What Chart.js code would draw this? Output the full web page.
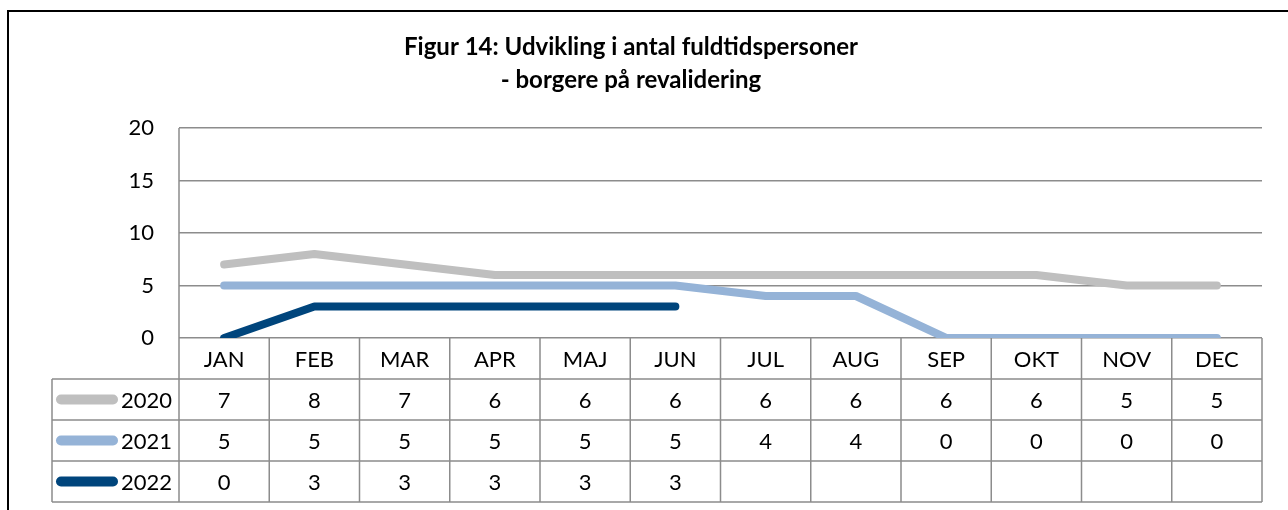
<!DOCTYPE html>
<html>
<head>
  <title>Figur 14</title>
  <script src="https://cdn.jsdelivr.net/npm/chart.js"></script>
  <style>
    body { margin: 0; background: #fff; }
  </style>
</head>
<body>
  <canvas id="chartCanvas" width="1288" height="510"></canvas>

<script>
  const months = ["JAN", "FEB", "MAR", "APR", "MAJ", "JUN", "JUL", "AUG", "SEP", "OKT", "NOV", "DEC"];
  const values2020 = [7, 8, 7, 6, 6, 6, 6, 6, 6, 6, 5, 5];
  const values2021 = [5, 5, 5, 5, 5, 5, 4, 4, 0, 0, 0, 0];
  const values2022 = [0, 3, 3, 3, 3, 3, null, null, null, null, null, null];
  const seriesNames = ["2020", "2021", "2022"];
  const seriesColors = ["#BFBFBF", "#95B3D7", "#00457C"];
  const yTicks = [0, 5, 10, 15, 20];

  const FONT = "Lato, 'Open Sans', sans-serif";
  const gridColor = "#8C8C8C";
  const rowH = 41;

  // draws the frame, and the data table under the plot
  const tablePlugin = {
    id: "dataTable",
    beforeDraw(chart) {
      const ctx = chart.ctx;
      ctx.save();
      ctx.strokeStyle = "#000";
      ctx.lineWidth = 2;
      ctx.beginPath();
      ctx.moveTo(8, 510);
      ctx.lineTo(8, 11);
      ctx.lineTo(1288, 11);
      ctx.stroke();
      ctx.restore();
    },
    afterDraw(chart) {
      const ctx = chart.ctx;
      const xs = chart.scales.x;
      const area = chart.chartArea;
      const colW = (area.right - area.left) / months.length;
      const top = area.bottom;
      const legLeft = 52;
      const rows = [values2020, values2021, values2022];

      ctx.save();
      ctx.strokeStyle = gridColor;
      ctx.lineWidth = 1.5;
      ctx.beginPath();
      // horizontal lines
      for (let r = 1; r <= 4; r++) {
        const y = top + r * rowH;
        ctx.moveTo(legLeft, y);
        ctx.lineTo(area.right, y);
      }
      // vertical lines
      ctx.moveTo(area.left, area.top);
      ctx.lineTo(area.left, top + 4 * rowH);
      for (let i = 1; i <= months.length; i++) {
        const x = area.left + i * colW;
        ctx.moveTo(x, top);
        ctx.lineTo(x, top + 4 * rowH);
      }
      ctx.moveTo(legLeft, top + rowH);
      ctx.lineTo(legLeft, top + 4 * rowH);
      ctx.stroke();

      ctx.fillStyle = "#000";
      ctx.font = "22px " + FONT;
      ctx.textAlign = "center";
      ctx.textBaseline = "middle";
      months.forEach((m, i) => {
        ctx.fillText(m, xs.getPixelForValue(i), top + rowH / 2 + 1);
      });
      rows.forEach((vals, r) => {
        const y = top + (r + 1) * rowH + rowH / 2 + 1;
        vals.forEach((v, i) => {
          if (v !== null) ctx.fillText(String(v), xs.getPixelForValue(i), y);
        });
      });

      // legend keys
      seriesNames.forEach((name, r) => {
        const y = top + (r + 1) * rowH + rowH / 2;
        ctx.strokeStyle = seriesColors[r];
        ctx.lineWidth = 10;
        ctx.lineCap = "round";
        ctx.beginPath();
        ctx.moveTo(61, y);
        ctx.lineTo(113, y);
        ctx.stroke();
        ctx.textAlign = "right";
        ctx.fillText(name, 172, y + 1);
      });
      ctx.restore();
    }
  };

  const makeSet = (i, data) => ({
    label: seriesNames[i],
    data: data,
    borderColor: seriesColors[i],
    backgroundColor: seriesColors[i],
    borderWidth: 8,
    borderCapStyle: "round",
    borderJoinStyle: "round",
    pointRadius: 0,
    tension: 0,
    spanGaps: false
  });

  const ctx = document.getElementById("chartCanvas").getContext("2d");
  new Chart(ctx, {
    type: "line",
    data: {
      labels: months,
      datasets: [makeSet(0, values2020), makeSet(1, values2021), makeSet(2, values2022)]
    },
    options: {
      responsive: false,
      animation: false,
      layout: { padding: { left: 0, right: 26, top: 0, bottom: 164 } },
      plugins: {
        legend: { display: false },
        tooltip: { enabled: false },
        title: {
          display: true,
          text: ["Figur 14: Udvikling i antal fuldtidspersoner", "- borgere på revalidering"],
          color: "#000",
          font: { family: FONT, size: 24, weight: "bold", lineHeight: 1.375 },
          padding: { top: 31, bottom: 31 }
        }
      },
      scales: {
        x: {
          offset: true,
          grid: { display: false },
          border: { display: false },
          ticks: { display: false }
        },
        y: {
          min: 0,
          max: 20,
          afterFit: (scale) => { scale.width = 179; },
          afterBuildTicks: (scale) => { scale.ticks = yTicks.map(v => ({ value: v })); },
          grid: { color: gridColor, lineWidth: 1.5, drawTicks: false },
          border: { display: false },
          ticks: {
            color: "#000",
            padding: 25,
            font: { family: FONT, size: 22 }
          }
        }
      }
    },
    plugins: [tablePlugin]
  });
</script>
</body>
</html>
